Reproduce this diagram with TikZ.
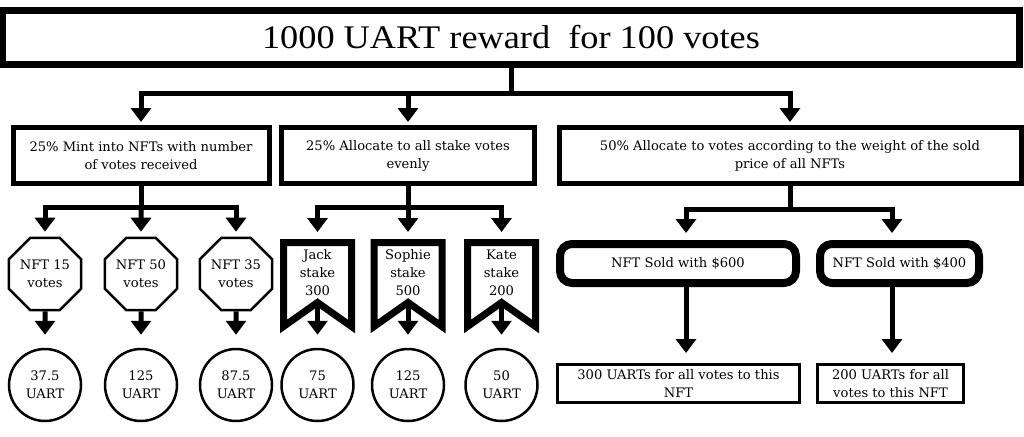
\documentclass[tikz,border=0pt]{standalone}
\usepackage{fontspec}
\setmainfont{DejaVu Serif}
\newfontfamily\titlefont[FakeStretch=1.1]{Liberation Serif}
\usetikzlibrary{arrows.meta,shapes.geometric,calc}
\begin{document}
\begin{tikzpicture}[x=1pt,y=-1pt,
  txt/.style={font=\fontsize{13.1}{18}\selectfont, align=center, inner sep=0pt},
  lvlbox/.style={txt, draw, line width=5pt, minimum height=56pt},
  octa/.style={txt, draw, line width=2.5pt, regular polygon, regular polygon sides=8, minimum size=78pt},
  coin/.style={txt, draw, line width=2.5pt, circle, minimum size=72pt},
  bannernode/.style={txt, minimum width=68pt, minimum height=60pt, outer sep=0pt},
  bannerline/.style={line width=7pt, line join=miter},
  soldbox/.style={txt, draw, line width=8pt, rounded corners=12pt, minimum height=39pt},
  resbox/.style={txt, draw, line width=3pt, minimum height=38pt},
  stem/.style={line width=5pt},
  conn/.style={line width=5pt, -{Triangle[width=20pt,length=14pt]}}
]
\useasboundingbox (0,0) rectangle (1024,436);
\fill[white] (0,0) rectangle (1024,436);

% title
\node[draw, line width=7pt, minimum width=1017pt, minimum height=54pt, inner sep=0pt,
      font=\titlefont\fontsize{33}{36}\selectfont] (top) at (511,37.5) {1000 UART reward~ for 100 votes};

% level 2
\node[lvlbox, minimum width=256pt] (b1) at (141,155.5) {25\% Mint into NFTs with number\\of votes received};
\node[lvlbox, minimum width=253pt] (b2) at (408,155.5) {25\% Allocate to all stake votes\\evenly};
\node[lvlbox, minimum width=462pt] (b3) at (790,155.5) {50\% Allocate to votes according to the weight of the sold\\price of all NFTs};

\coordinate (j0) at (511,93);
\draw[stem] (top.south) -- (j0);
\draw[conn, shorten >=3pt] (j0) -| (b1.north);
\draw[conn, shorten >=3pt] (j0) -| (b2.north);
\draw[conn, shorten >=3pt] (j0) -| (b3.north);

% octagons
\node[octa] (o1) at (45,274) {NFT 15\\votes};
\node[octa] (o2) at (141,274) {NFT 50\\votes};
\node[octa] (o3) at (236,274) {NFT 35\\votes};
\coordinate (j1) at (141,207);
\draw[stem] (b1.south) -- (j1);
\draw[conn, shorten >=5pt] (j1) -| (o1.north);
\draw[conn, shorten >=5pt] (j1) -- (o2.north);
\draw[conn, shorten >=5pt] (j1) -| (o3.north);

% banners
\node[bannernode] (s1) at (317.5,272.5) {Jack\\stake\\300};
\node[bannernode] (s2) at (408,272.5) {Sophie\\stake\\500};
\node[bannernode] (s3) at (501.5,272.5) {Kate\\stake\\200};
\foreach \s in {s1,s2,s3}{
  \draw[bannerline] (\s.north west) -- (\s.north east) -- ([yshift=-24pt]\s.south east)
     -- (\s.south) -- ([yshift=-24pt]\s.south west) -- cycle;
}
\coordinate (j2) at (408,207);
\draw[stem] (b2.south) -- (j2);
\draw[conn, shorten >=10.5pt] (j2) -| (s1.north);
\draw[conn, shorten >=10.5pt] (j2) -- (s2.north);
\draw[conn, shorten >=10.5pt] (j2) -| (s3.north);

% coins
\node[coin] (c1) at (45,385) {37.5\\UART};
\node[coin] (c2) at (141,385) {125\\UART};
\node[coin] (c3) at (236,385) {87.5\\UART};
\node[coin] (c4) at (317.5,385) {75\\UART};
\node[coin] (c5) at (408,385) {125\\UART};
\node[coin] (c6) at (501.5,385) {50\\UART};
\draw[conn, shorten >=13pt] (o1.south) -- (c1.north);
\draw[conn, shorten >=13pt] (o2.south) -- (c2.north);
\draw[conn, shorten >=13pt] (o3.south) -- (c3.north);
\draw[conn, shorten >=13pt] (s1.south) -- (c4.north);
\draw[conn, shorten >=13pt] (s2.south) -- (c5.north);
\draw[conn, shorten >=13pt] (s3.south) -- (c6.north);

% sold boxes
\node[soldbox, minimum width=236pt] (r1) at (678,263.5) {NFT Sold with \$600};
\node[soldbox, minimum width=159pt] (r2) at (899.5,263.5) {NFT Sold with \$400};
\coordinate (j3) at (790,209);
\draw[stem] (b3.south) -- (j3);
\draw[conn, shorten >=7pt] (j3) -| ([xshift=8pt]r1.north);
\draw[conn, shorten >=7pt] (j3) -| ([xshift=-7.5pt]r2.north);

% result boxes
\node[resbox, minimum width=242pt] (x1) at (678.5,383.5) {300 UARTs for all votes to this\\NFT};
\node[resbox, minimum width=146pt] (x2) at (890.5,383.5) {200 UARTs for all\\votes to this NFT};
\draw[conn, shorten >=10pt] ([xshift=8pt]r1.south) -- ([xshift=8pt]r1.south |- x1.north);
\draw[conn, shorten >=10pt] ([xshift=-7.5pt]r2.south) -- ([xshift=-7.5pt]r2.south |- x2.north);
\end{tikzpicture}
\end{document}
